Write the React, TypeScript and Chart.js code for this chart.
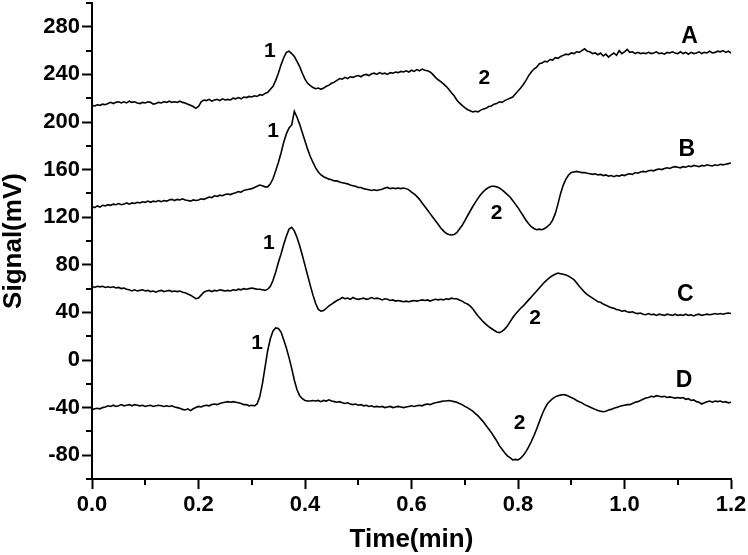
import React, { useEffect, useRef } from "react";
import { Chart, registerables } from "chart.js";

Chart.register(...registerables);

const FONT = '"Liberation Sans", Arial, Helvetica, sans-serif';

// sampling grid (min), 0.000 .. 1.200 every 0.005
const times: number[] = Array.from({ length: 241 }, (_, i) => Math.round(i * 5) / 1000);

const seriesA: number[] = [
  214, 213.5, 214.5, 214, 215, 214.5, 215.5, 216.5, 215.5, 216.5, 217, 216, 217, 216, 217.5, 216.5, 217, 216, 215.5, 216.5, 216,
  217, 216.5, 215, 215.5, 216.5, 216, 217, 216.5, 217.5, 216.5, 217, 216.5, 217.5, 216.5, 216, 215, 214, 213, 211.5, 213,
  217, 218.5, 218, 219, 217.5, 218.5, 219, 218, 219.5, 218.5, 219, 218.5, 220, 219.5, 220.5, 219.5, 221, 220.5, 221.5, 221,
  222, 221.5, 223, 222.5, 224, 225, 227.5, 230, 235, 241, 248, 254, 258.5, 259.5, 257.5, 255, 251, 246.5, 241, 236,
  232.5, 230.5, 229, 228, 228.5, 227.5, 228.5, 230, 231, 232.5, 233.5, 235, 236.5, 236, 237.5, 236.5, 238, 237.5, 238.5, 239,
  238, 239.5, 240, 239, 240.5, 241, 240, 241.5, 240.5, 241, 240, 241.5, 241, 242, 241.5, 242.5, 242, 243, 242, 243.5,
  242.5, 244, 243, 244.5, 243.5, 243, 242, 240, 237.5, 235.5, 234, 232, 230, 227.5, 224.5, 222, 218.5, 216, 214, 212,
  210.5, 209.5, 208.5, 209, 208.5, 210, 211, 211.5, 213, 213.5, 215, 215.5, 217, 216.5, 218, 219, 220, 221, 223.5, 226,
  228.5, 231.5, 235, 239, 242, 244.5, 246, 249, 249.5, 251, 250.5, 252.5, 252, 254, 253.5, 255, 256, 257, 256.5, 258,
  257.5, 259, 258.5, 260, 261.5, 259.5, 259, 257.5, 258, 256.5, 258, 255.5, 257, 254.5, 256.5, 258, 256, 260, 257.5, 259,
  261, 258.5, 259, 257.5, 258.5, 257.5, 258, 257.5, 258.5, 257.5, 258, 259, 257.5, 258, 257, 258.5, 258, 259, 258, 257.5,
  259, 257.5, 258.5, 257, 258.5, 257.5, 258, 259, 257.5, 258.5, 258, 259.5, 258, 258.5, 259.5, 259, 260, 258.5, 259.5, 258,
];

const seriesB: number[] = [
  129, 128, 129.5, 128.5, 130, 129.5, 130.5, 130, 131, 130.5, 131.5, 130.5, 131, 132, 131, 132, 131.5, 132.5, 132, 133, 132.5,
  133.5, 132.5, 133.5, 133, 134, 133, 134, 133.5, 134.5, 135, 134, 135, 134.5, 135.5, 134.5, 134, 133.5, 134.5, 134, 134.5,
  135.5, 135, 136, 137, 136.5, 138, 137.5, 138.5, 138, 139, 139.5, 139, 140, 140.5, 141.5, 141, 142.5, 143, 143.5, 144,
  145, 146, 147, 146.5, 145.5, 145.5, 148, 152.5, 159, 166, 174, 183, 190, 195, 197.5, 209, 204, 198, 191, 184,
  177, 171, 166, 161.5, 158, 155.5, 154, 153, 152, 151.5, 150.5, 150.5, 149.5, 149, 148.5, 148, 147, 146.5, 146, 145,
  145, 144, 143.5, 143, 142.5, 143, 142.5, 143, 143.5, 144.5, 145, 144, 144.5, 144, 144.5, 144, 144.5, 144, 143, 141,
  139.5, 137.5, 135, 132, 129, 126, 123, 120, 117, 114, 111, 108.5, 106.5, 105.5, 105, 105.5, 107, 110, 113, 117,
  121, 125, 129, 132.5, 136, 139, 141.5, 143.5, 145, 146, 146, 145.5, 144.5, 143, 141, 139, 137, 134, 131, 128,
  124.5, 121, 117.5, 114.5, 112, 110.5, 109.5, 110, 109.5, 110.5, 112, 114, 117.5, 123, 131, 140, 147, 152, 155.5, 157.5,
  158, 158.5, 158, 157.5, 157.5, 157, 156.5, 156, 156.5, 155.5, 156, 155, 155.5, 154.5, 155, 154, 155, 154.5, 155.5, 155,
  156, 156.5, 156, 157.5, 157, 158, 158.5, 158, 159, 159.5, 159, 160, 160.5, 160, 161, 161.5, 161, 162, 162.5, 162,
  161.5, 162.5, 162, 163, 162.5, 163.5, 163, 162.5, 163.5, 163, 164, 163.5, 163, 164, 163.5, 164.5, 164, 164.5, 165, 165.5,
];

const seriesC: number[] = [
  62, 61, 62, 61.5, 62, 61, 61.5, 61, 61.5, 60.5, 61, 60, 60.5, 59.5, 59, 58, 59, 58, 58.5, 59, 58,
  58.5, 57.5, 58, 57, 58, 58.5, 57.5, 58, 58.5, 57.5, 58, 57.5, 58, 57, 56.5, 55.5, 54.5, 53, 51.5, 52,
  54.5, 57, 58, 58.5, 57.5, 58.5, 58, 59, 58.5, 58, 58.5, 58, 59, 58.5, 59.5, 59, 60, 59.5, 60, 60.5,
  60, 59.5, 59.5, 59, 58.5, 59.5, 62, 67, 74, 82, 89, 97, 104, 110, 111.5, 108.5, 103, 96, 88, 79.5,
  71, 62.5, 54.5, 47.5, 42.5, 41, 41.5, 43.5, 45.5, 47, 48.5, 50, 51, 52.5, 51.5, 52, 51, 52.5, 51.5, 51,
  51.5, 52, 51, 51.5, 52.5, 51.5, 52, 51.5, 50.5, 51.5, 51, 50, 50.5, 49.5, 50, 49.5, 49, 49.5, 49, 49.5,
  50, 49.5, 50, 50.5, 50, 50.5, 49.5, 50.5, 51, 50.5, 51, 50.5, 51.5, 51, 52, 51.5, 51.5, 50.5, 49.5, 48,
  47, 45.5, 43, 40, 37, 34.5, 32, 30, 28, 26.5, 25, 23.5, 23, 24, 26, 28.5, 32, 35.5, 38.5, 41,
  43.5, 45.5, 48, 50.5, 53, 55.5, 58, 60.5, 63, 65.5, 67.5, 69.5, 71, 72, 73, 72.5, 72, 71.5, 70.5, 69,
  67.5, 65, 62, 59.5, 57, 55, 53.5, 52, 50.5, 49, 48.5, 47, 46, 45, 44, 43.5, 42.5, 42, 41, 41.5,
  40.5, 40, 40.5, 39.5, 39, 39.5, 38.5, 38, 39, 38, 38.5, 37.5, 38.5, 38, 37.5, 38.5, 38, 37.5, 38.5, 37.5,
  38, 37.5, 38.5, 37.5, 38, 37, 38, 38.5, 37.5, 38, 38.5, 38, 38.5, 39, 38.5, 39, 38.5, 39, 39.5, 39,
];

const seriesD: number[] = [
  -42, -41, -40.5, -41, -40, -39.5, -38.5, -39, -38, -39, -38.5, -37.5, -38.5, -38, -37.5, -38.5, -37.5, -38, -38.5, -38, -39,
  -38.5, -38, -39, -38.5, -38, -38.5, -39, -38.5, -39, -38.5, -39.5, -40, -40.5, -41.5, -42, -41, -42.5, -41, -40, -39,
  -39.5, -38.5, -38, -38.5, -37.5, -37, -37.5, -36.5, -36, -35.5, -35, -35.5, -35, -35.5, -36, -36.5, -37.5, -37.5, -38.5, -38,
  -38.5, -37, -31, -20, -6, 8, 18, 24.5, 27, 26.5, 23.5, 17, 10, 2, -7, -17, -25, -30, -32.5, -34,
  -34.5, -34.5, -34, -34.5, -34, -35, -34, -34.5, -33.5, -34.5, -35, -35.5, -35, -36, -36.5, -36, -37, -37.5, -37, -38,
  -37.5, -38.5, -38, -39, -38.5, -39.5, -39, -39.5, -39, -40, -39.5, -39, -40, -39.5, -39, -39.5, -40, -39.5, -39, -38.5,
  -39, -38.5, -38, -38.5, -37.5, -37, -37.5, -36.5, -36, -35.5, -35, -34.5, -34.5, -34, -34.5, -35, -35.5, -36.5, -37.5, -39,
  -40, -41.5, -43, -45, -47, -49.5, -52, -55, -58, -61, -64.5, -68, -72, -75, -78, -80.5, -82, -84, -83.5, -84,
  -82.5, -80, -77, -73, -68.5, -63.5, -58, -52, -46, -41, -37, -34.5, -32.5, -31, -30, -29.5, -29, -29.5, -30.5, -31.5,
  -32.5, -34, -35, -36, -37.5, -38.5, -39.5, -40.5, -41.5, -42.5, -43, -43.5, -43, -42, -41.5, -40.5, -40, -39, -38.5, -38,
  -37.5, -37.5, -36.5, -35.5, -35, -34, -33, -32, -31.5, -30.5, -31, -30, -30.5, -31, -30.5, -31.5, -31, -31.5, -32, -31.5,
  -32, -31.5, -33, -32.5, -34, -33.5, -35, -35.5, -37, -36, -35, -34.5, -35.5, -34.5, -35, -34.5, -35.5, -35, -36, -35.5,
];

const seriesNames = ["A", "B", "C", "D"];
const seriesValues = [seriesA, seriesB, seriesC, seriesD];

const xMajorTicks = [0, 0.2, 0.4, 0.6, 0.8, 1.0, 1.2];
const xMinorTicks = [0.1, 0.3, 0.5, 0.7, 0.9, 1.1];
const yMajorTicks = [-80, -40, 0, 40, 80, 120, 160, 200, 240, 280];
const yMinorTicks = [-100, -60, -20, 20, 60, 100, 140, 180, 220, 260, 300];

const xAxisTitle = "Time(min)";
const yAxisTitle = "Signal(mV)";

// text annotations: curve names and peak numbers (time, signal)
const labelTexts = ["A", "1", "2", "B", "1", "2", "C", "1", "2", "D", "1", "2"];
const labelTimes = [1.122, 0.334, 0.737, 1.117, 0.34, 0.76, 1.114, 0.332, 0.832, 1.112, 0.31, 0.803];
const labelValues = [271.5, 259.5, 237, 176.5, 192, 123.5, 54.6, 98.4, 35.3, -17.6, 14.3, -52.9];

const minorTicksPlugin = {
  id: "minorTicks",
  afterDraw(chart: any) {
    const { ctx, scales } = chart;
    const xs = scales.x;
    const ys = scales.y;
    ctx.save();
    ctx.strokeStyle = "#000";
    ctx.lineWidth = 2;
    ctx.beginPath();
    for (const v of yMinorTicks) {
      const py = Math.round(ys.getPixelForValue(v));
      ctx.moveTo(xs.left - 6, py);
      ctx.lineTo(xs.left, py);
    }
    for (const v of xMinorTicks) {
      const px = Math.round(xs.getPixelForValue(v));
      ctx.moveTo(px, ys.bottom);
      ctx.lineTo(px, ys.bottom + 6);
    }
    ctx.stroke();
    ctx.restore();
  },
};

// vertical axis title
const yTitlePlugin = {
  id: "yTitle",
  afterDraw(chart: any) {
    const { ctx, chartArea } = chart;
    ctx.save();
    ctx.fillStyle = "#000";
    ctx.font = `bold 26px ${FONT}`;
    ctx.textAlign = "center";
    ctx.textBaseline = "middle";
    ctx.translate(14, (chartArea.top + chartArea.bottom) / 2);
    ctx.rotate(-Math.PI / 2);
    ctx.fillText(yAxisTitle, 0, 0);
    ctx.restore();
  },
};

const curveLabelsPlugin = {
  id: "curveLabels",
  afterDatasetsDraw(chart: any) {
    const { ctx, scales } = chart;
    ctx.save();
    ctx.fillStyle = "#000";
    ctx.textAlign = "center";
    ctx.textBaseline = "middle";
    labelTexts.forEach((t, i) => {
      const isName = seriesNames.includes(t);
      ctx.font = `bold ${isName ? 23 : 21}px ${FONT}`;
      ctx.fillText(t, scales.x.getPixelForValue(labelTimes[i]), scales.y.getPixelForValue(labelValues[i]));
    });
    ctx.restore();
  },
};

export default function App() {
  const ref = useRef<HTMLCanvasElement>(null);
  useEffect(() => {
    const canvas = ref.current;
    if (!canvas) return;
    const chart = new Chart(canvas, {
      type: "line",
      data: {
        datasets: seriesValues.map((vals, k) => ({
          label: seriesNames[k],
          data: vals.map((y, i) => ({ x: times[i], y })),
          borderColor: "#000",
          borderWidth: 1.6,
          pointRadius: 0,
          tension: 0,
          fill: false,
        })),
      },
      options: {
        animation: false,
        responsive: false,
        maintainAspectRatio: false,
        layout: { padding: { left: 0, top: 3, right: 17, bottom: 0 } },
        plugins: { legend: { display: false }, tooltip: { enabled: false } },
        scales: {
          x: {
            type: "linear",
            min: 0,
            max: 1.2,
            afterBuildTicks: (s: any) => {
              s.ticks = xMajorTicks.map((v) => ({ value: v }));
            },
            afterFit: (s: any) => {
              s.height = 76;
              s.paddingLeft = 0;
              s.paddingRight = 0;
            },
            grid: { drawOnChartArea: false, drawTicks: true, tickLength: 10, tickColor: "#000", tickWidth: 2 },
            border: { display: true, color: "#000", width: 2 },
            ticks: {
              color: "#000",
              font: { family: FONT, size: 22, weight: "bold" },
              padding: 3,
              maxRotation: 0,
              autoSkip: false,
              callback: (v: any) => Number(v).toFixed(1),
            },
            title: {
              display: true,
              text: xAxisTitle,
              color: "#000",
              font: { family: FONT, size: 26, weight: "bold", lineHeight: 1.2 },
              padding: { top: 0, bottom: 0 },
            },
          },
          y: {
            type: "linear",
            min: -100,
            max: 300,
            afterBuildTicks: (s: any) => {
              s.ticks = yMajorTicks.map((v) => ({ value: v }));
            },
            afterFit: (s: any) => {
              s.width = 92;
              s.paddingTop = 0;
              s.paddingBottom = 0;
            },
            grid: { drawOnChartArea: false, drawTicks: true, tickLength: 10, tickColor: "#000", tickWidth: 2 },
            border: { display: true, color: "#000", width: 2 },
            ticks: {
              color: "#000",
              font: { family: FONT, size: 22, weight: "bold" },
              padding: 2,
              autoSkip: false,
              callback: (v: any) => String(v),
            },
            title: { display: false },
          },
        },
      },
      plugins: [minorTicksPlugin, yTitlePlugin, curveLabelsPlugin],
    } as any);
    return () => chart.destroy();
  }, []);

  return (
    <div style={{ position: "fixed", left: 0, top: 0, width: 748, height: 555, background: "#fff" }}>
      <canvas ref={ref} width={748} height={555} style={{ display: "block" }} />
    </div>
  );
}
